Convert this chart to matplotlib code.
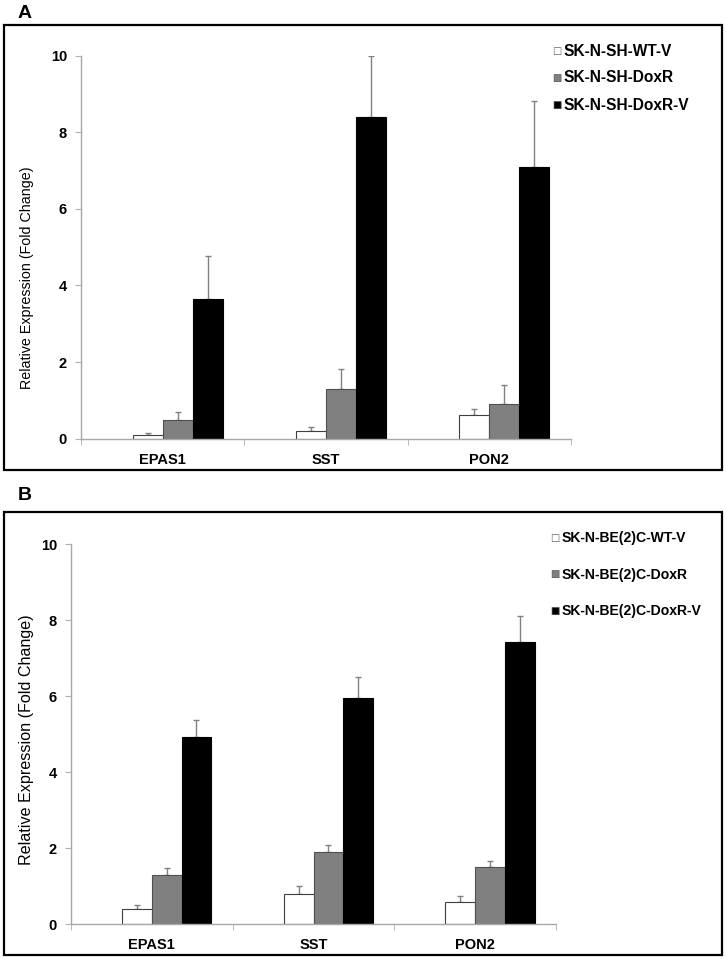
import numpy as np
import matplotlib
matplotlib.use("Agg")
import matplotlib.pyplot as plt
from matplotlib.patches import Rectangle

plt.rcParams['font.family'] = ['Liberation Sans Narrow', 'Liberation Sans', 'DejaVu Sans']

genes = ["EPAS1", "SST", "PON2"]

# panel A
labels_a = ["SK-N-SH-WT-V", "SK-N-SH-DoxR", "SK-N-SH-DoxR-V"]
wt_a = [0.10, 0.20, 0.61]
doxr_a = [0.50, 1.30, 0.90]
doxrv_a = [3.65, 8.41, 7.10]
wt_a_err = [0.04, 0.10, 0.16]
doxr_a_err = [0.20, 0.51, 0.49]
doxrv_a_err = [1.11, 1.59, 1.72]

# panel B
labels_b = ["SK-N-BE(2)C-WT-V", "SK-N-BE(2)C-DoxR", "SK-N-BE(2)C-DoxR-V"]
wt_b = [0.40, 0.79, 0.59]
doxr_b = [1.29, 1.90, 1.49]
doxrv_b = [4.92, 5.95, 7.43]
wt_b_err = [0.10, 0.20, 0.15]
doxr_b_err = [0.19, 0.17, 0.18]
doxrv_b_err = [0.46, 0.54, 0.68]

colors = ["white", "#808080", "black"]
edges = ["#404040", "#505050", "black"]

fig = plt.figure(figsize=(7.26, 9.59), dpi=100)

# panel frames
for y0, y1 in [(25, 470), (512, 955)]:
    fig.patches.append(Rectangle((4 / 726, 1 - y1 / 959), 718 / 726, (y1 - y0) / 959,
                                 transform=fig.transFigure, fill=False,
                                 edgecolor="black", linewidth=1.6))
fig.text(18 / 726, 1 - 13 / 959, "A", fontsize=14, fontweight="bold",
         family="Liberation Sans", va="center", ha="left")
fig.text(18 / 726, 1 - 495 / 959, "B", fontsize=14, fontweight="bold",
         family="Liberation Sans", va="center", ha="left")


def panel(rect, series, errs, labels, legend_xy, leg_step, lab_y, lab_size, leg_size):
    ax = fig.add_axes(rect)
    x = np.arange(len(genes))
    w = 0.184
    offsets = [-0.5, 0.5, 1.5]
    for vals, err, off, c, ec, lab in zip(series, errs, offsets, colors, edges, labels):
        ax.bar(x + off * w, vals, w, color=c, edgecolor=ec, linewidth=0.8, label=lab, zorder=2)
        ax.errorbar(x + off * w, vals, yerr=[np.zeros(len(err)), err], fmt="none",
                    ecolor="#808080", elinewidth=1, capsize=2.5, capthick=1, zorder=1)
    ax.set_xlim(-0.5, 2.5)
    ax.set_ylim(0, 10)
    ax.set_yticks([0, 2, 4, 6, 8, 10])
    ax.set_xticks(x)
    ax.set_xticklabels(genes)
    ax.set_xticks([-0.5, 0.5, 1.5, 2.5], minor=True)
    ax.tick_params(axis="x", which="major", length=0, pad=10)
    ax.tick_params(axis="x", which="minor", length=4, direction="out", color="#b0b0b0")
    ax.tick_params(axis="y", length=4, direction="out", color="#b0b0b0", pad=6)
    for t in ax.get_xticklabels() + ax.get_yticklabels():
        t.set_fontweight("bold")
        t.set_fontsize(10.5)
    for s in ["top", "right"]:
        ax.spines[s].set_visible(False)
    for s in ["left", "bottom"]:
        ax.spines[s].set_color("#a8a8a8")
        ax.spines[s].set_linewidth(1)
    fig.text(27 / 726, 1 - lab_y / 959, "Relative Expression (Fold Change)",
             rotation=90, va="center", ha="center", fontsize=lab_size,
             family="Liberation Sans")
    # legend drawn as markers + text
    lx, ly = legend_xy
    for i, (c, lab) in enumerate(zip(colors, labels)):
        yy = 1 - (ly + i * leg_step) / 959
        fig.text(lx / 726, yy, "\u25a0", color=c, fontsize=7, va="center", ha="center",
                 family="DejaVu Sans")
        fig.text(lx / 726, yy, "\u25a1", color="#606060", fontsize=7, va="center", ha="center",
                 family="DejaVu Sans")
        fig.text((lx + 7) / 726, yy, lab, fontsize=leg_size, fontweight="bold",
                 va="center", ha="left", family="Liberation Sans")
    return ax


panel([81 / 726, 1 - 438.7 / 959, 490 / 726, 383 / 959],
      [wt_a, doxr_a, doxrv_a], [wt_a_err, doxr_a_err, doxrv_a_err], labels_a,
      (557, 51), 27, 278, 10.3, 11.2)
panel([71 / 726, 1 - 924 / 959, 485 / 726, 380 / 959],
      [wt_b, doxr_b, doxrv_b], [wt_b_err, doxr_b_err, doxrv_b_err], labels_b,
      (555, 538), 36.5, 740, 11.6, 10.1)

fig.savefig("out.png", dpi=100)
